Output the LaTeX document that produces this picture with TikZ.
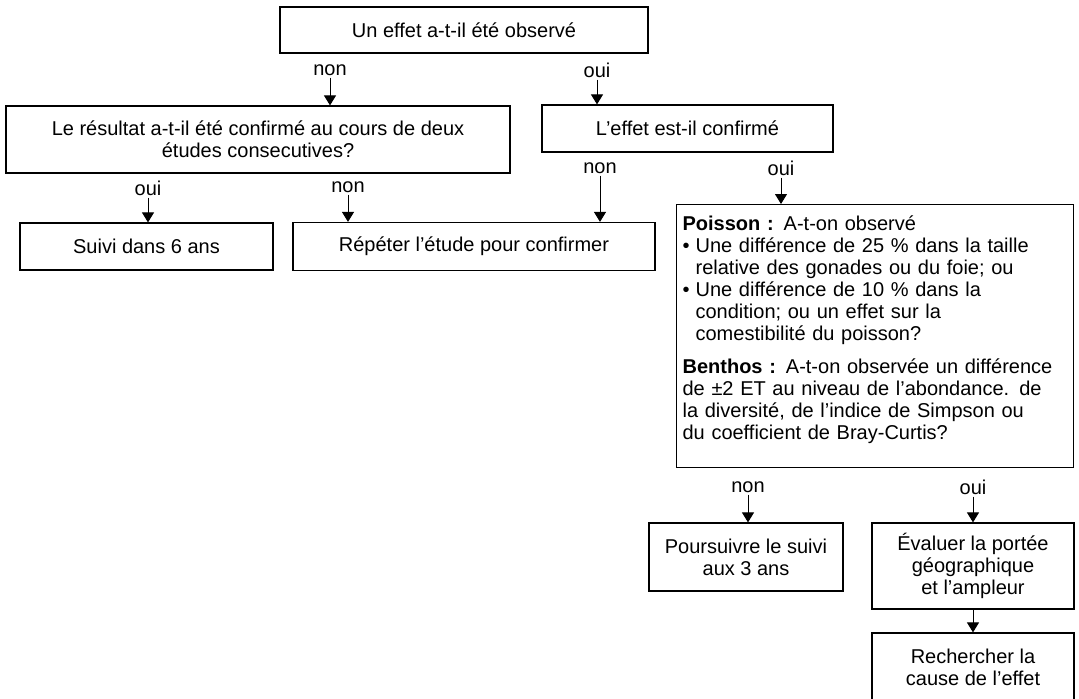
\documentclass[tikz,border=0pt]{standalone}
\usepackage{fontspec}
\setmainfont{Liberation Sans}
\usetikzlibrary{arrows.meta}
\newlength\px \setlength\px{0.75pt}
\newcommand\bul{\makebox[13\px][l]{\textbullet}}
\newcommand\ind{\hspace*{13\px}}
\begin{document}
\begin{tikzpicture}[x=0.75pt,y=-0.75pt,
  font=\fontsize{15}{16.5}\selectfont,
  box/.style={draw, line width=0.9pt, inner sep=0pt, align=center},
  lbl/.style={inner sep=1.5pt},
  arr/.style={line width=0.75pt, -{Triangle[width=9pt,length=7.5pt]}}]
\useasboundingbox (0,0) rectangle (1079,699);

% boxes
\node[box, minimum width=368\px, minimum height=46\px] (top) at (464,30) {Un effet a-t-il été observé};
\node[box, minimum width=504\px, minimum height=67\px] (res) at (258,139.5) {Le résultat a-t-il été confirmé au cours de deux\\ études consecutives?};
\node[box, minimum width=291\px, minimum height=47\px] (conf) at (687.5,128.5) {L’effet est-il confirmé};
\node[box, minimum width=253\px, minimum height=47\px] (suivi) at (146.5,246.5) {Suivi dans 6 ans};
\node[box, minimum width=362\px, minimum height=48\px] (rep) at (474,246.5) {Répéter l'étude pour confirmer};
\node[box, text width=385\px, inner xsep=6\px, inner ysep=3pt, align=left, anchor=north west] (big) at (676,204) {%
\rule{0pt}{16.5pt}\textbf{Poisson :} A-t-on observé\\
\bul Une différence de 25 \% dans la taille\\
\ind relative des gonades ou du foie; ou\\
\bul Une différence de 10 \% dans la\\
\ind condition; ou un effet sur la\\
\ind comestibilité du poisson?\\[11\px]
\textbf{Benthos :} A-t-on observée un différence\\
de ±2 ET au niveau de l’abondance. de\\
la diversité, de l’indice de Simpson ou\\
du coefficient de Bray-Curtis?\rule[-18pt]{0pt}{18pt}};
\node[box, minimum width=194\px, minimum height=68\px] (pours) at (746,557) {Poursuivre le suivi\\aux 3 ans};
\node[box, minimum width=202\px, minimum height=86\px] (eval) at (973,566) {Évaluer la portée\\géographique\\et l’ampleur};
\node[box, minimum width=202\px, minimum height=69\px] (rech) at (973,667.5) {Rechercher la\\cause de l’effet};

% labels
\node[lbl] (l1) at (330,70) {non};
\node[lbl] (l2) at (597,70) {oui};
\node[lbl] (l3) at (148,188) {oui};
\node[lbl] (l4) at (348,187) {non};
\node[lbl] (l5) at (600,168) {non};
\node[lbl] (l6) at (781,168) {oui};
\node[lbl] (l7) at (748,487) {non};
\node[lbl] (l8) at (973,487) {oui};

% connectors
\draw[arr] (l1) -- (l1 |- res.north);
\draw[arr] (l2) -- (l2 |- conf.north);
\draw[arr] (l3) -- (l3 |- suivi.north);
\draw[arr] (l4) -- (l4 |- rep.north);
\draw[arr] (l5) -- (l5 |- rep.north);
\draw[arr] (l6) -- (l6 |- big.north);
\draw[arr] (l7) -- (l7 |- pours.north);
\draw[arr] (l8) -- (l8 |- eval.north);
\draw[arr] (eval) -- (rech);
\end{tikzpicture}
\end{document}
